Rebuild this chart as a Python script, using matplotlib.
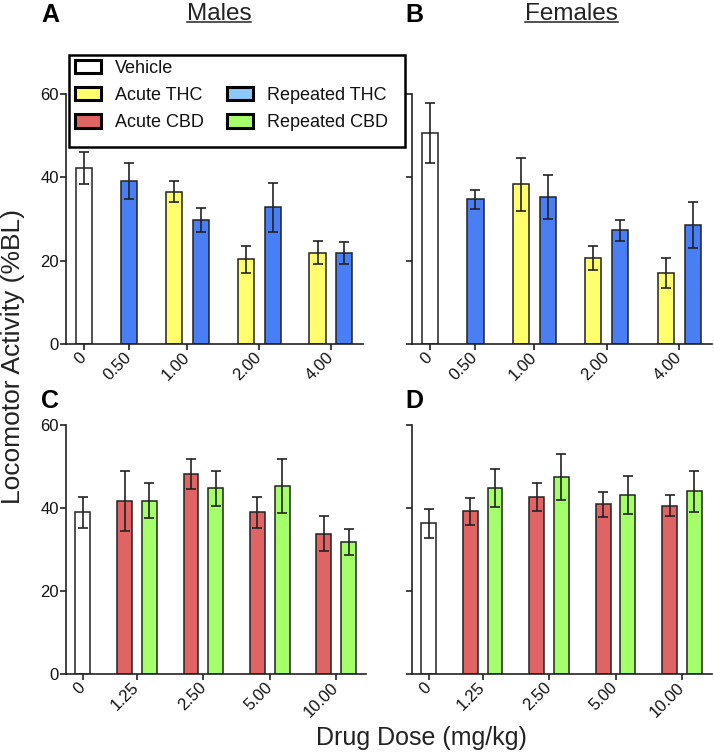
import numpy as np
import matplotlib
matplotlib.use("Agg")
import matplotlib.pyplot as plt
from matplotlib.patches import Patch, Rectangle
from matplotlib.lines import Line2D

plt.rcParams['font.family'] = ['Liberation Sans', 'DejaVu Sans']

# ---------------- data ----------------
thc_doses = ['0', '0.50', '1.00', '2.00', '4.00']
cbd_doses = ['0', '1.25', '2.50', '5.00', '10.00']

# Panel A: males, THC
a_vehicle, a_vehicle_sem = 42.2, 3.9
a_acute = [None, 36.6, 20.3, 21.9]
a_acute_sem = [None, 2.5, 3.2, 2.8]
a_repeat = [39.1, 29.8, 32.8, 21.9]
a_repeat_sem = [4.3, 2.8, 5.9, 2.7]

# Panel B: females, THC
b_vehicle, b_vehicle_sem = 50.6, 7.2
b_acute = [None, 38.3, 20.6, 17.1]
b_acute_sem = [None, 6.3, 2.9, 3.6]
b_repeat = [34.7, 35.3, 27.3, 28.5]
b_repeat_sem = [2.3, 5.2, 2.5, 5.5]

# Panel C: males, CBD
c_vehicle, c_vehicle_sem = 39.0, 3.7
c_acute = [41.8, 48.2, 39.0, 33.8]
c_acute_sem = [7.2, 3.7, 3.7, 4.2]
c_repeat = [41.8, 44.8, 45.3, 31.8]
c_repeat_sem = [4.2, 4.2, 6.4, 3.1]

# Panel D: females, CBD
d_vehicle, d_vehicle_sem = 36.3, 3.6
d_acute = [39.2, 42.6, 40.9, 40.6]
d_acute_sem = [3.2, 3.4, 3.0, 2.5]
d_repeat = [44.8, 47.5, 43.2, 44.0]
d_repeat_sem = [4.5, 5.5, 4.5, 4.9]

legend_labels = ['Vehicle', 'Acute THC', 'Acute CBD', '', 'Repeated THC', 'Repeated CBD']

# ---------------- styles ----------------
C_VEH = '#ffffff'
C_ATHC = '#ffff6e'
C_RTHC = '#4a7ef5'
C_RTHC_LEG = '#8cc8f8'
C_ACBD = '#e06464'
C_RCBD = '#a4ff6a'
EDGE = '#222222'

W, H = 714, 754
fig = plt.figure(figsize=(W / 100, H / 100), dpi=100)


def px_axes(left, right, top, bottom):
    return fig.add_axes([left / W, 1 - bottom / H, (right - left) / W, (bottom - top) / H])


GAP = 0.68
BW = 0.6


def draw_panel(ax, veh, veh_sem, acute, acute_sem, repeat, repeat_sem,
               c_acute, c_repeat, doses, show_ylabels):
    pos = 0.0
    xs, hs, es, cs = [], [], [], []
    ticks = []
    xs.append(pos); hs.append(veh); es.append(veh_sem); cs.append(C_VEH)
    ticks.append(pos)
    pos += 1 + GAP
    for a, ae, r, re_ in zip(acute, acute_sem, repeat, repeat_sem):
        grp = []
        if a is not None:
            xs.append(pos); hs.append(a); es.append(ae); cs.append(c_acute)
            grp.append(pos); pos += 1
        xs.append(pos); hs.append(r); es.append(re_); cs.append(c_repeat)
        grp.append(pos); pos += 1
        ticks.append(np.mean(grp))
        pos += GAP
    ax.bar(xs, hs, width=BW, color=cs, edgecolor=EDGE, linewidth=1.1, zorder=2)
    ax.errorbar(xs, hs, yerr=es, fmt='none', ecolor=EDGE, elinewidth=1.2,
                capsize=3.6, capthick=1.2, zorder=3)
    ax.set_xlim(-0.68, xs[-1] + 0.7)
    ax.set_ylim(0, 60)
    ax.set_yticks([0, 20, 40, 60])
    if not show_ylabels:
        ax.set_yticklabels([])
    ax.set_xticks(ticks)
    ax.set_xticklabels(doses, rotation=45, ha='right', va='center',
                       rotation_mode='anchor', fontsize=12)
    for s in ['top', 'right']:
        ax.spines[s].set_visible(False)
    for s in ['left', 'bottom']:
        ax.spines[s].set_linewidth(1.2)
        ax.spines[s].set_color(EDGE)
    ax.tick_params(axis='both', length=4, width=1.2, color=EDGE, labelsize=12,
                   labelcolor='#111111')
    ax.tick_params(axis='x', pad=4)
    ax.tick_params(axis='y', pad=1)


axA = px_axes(66, 363, 94, 344)
axB = px_axes(411.7, 711.7, 94, 344)
axC = px_axes(66, 366, 425, 674.3)
axD = px_axes(411.7, 711.7, 425, 674.3)

draw_panel(axA, a_vehicle, a_vehicle_sem, a_acute, a_acute_sem, a_repeat, a_repeat_sem,
           C_ATHC, C_RTHC, thc_doses, True)
draw_panel(axB, b_vehicle, b_vehicle_sem, b_acute, b_acute_sem, b_repeat, b_repeat_sem,
           C_ATHC, C_RTHC, thc_doses, False)
draw_panel(axC, c_vehicle, c_vehicle_sem, c_acute, c_acute_sem, c_repeat, c_repeat_sem,
           C_ACBD, C_RCBD, cbd_doses, True)
draw_panel(axD, d_vehicle, d_vehicle_sem, d_acute, d_acute_sem, d_repeat, d_repeat_sem,
           C_ACBD, C_RCBD, cbd_doses, False)

# panel letters
for letter, x, y in [('A', 41, 22.5), ('B', 405, 22.5), ('C', 41, 408), ('D', 405, 408)]:
    fig.text(x / W, 1 - y / H, letter, fontsize=18, fontweight='bold',
             ha='left', va='baseline')

# titles
titles = []
for label, x in [('Males', 219), ('Females', 571.5)]:
    t = fig.text(x / W, 1 - 19.5 / H, label, fontsize=17.5, ha='center', va='baseline',
                 color='#222222')
    titles.append(t)

fig.text(13 / W, 1 - 356 / H, 'Locomotor Activity (%BL)', rotation=90,
         fontsize=19, ha='center', va='center', color='#222222')
fig.text(421.7 / W, 1 - 745 / H, 'Drug Dose (mg/kg)', fontsize=18,
         ha='center', va='baseline', color='#222222')

# legend (entries), frame drawn separately
blank = Patch(facecolor='none', edgecolor='none')
handles = [Patch(facecolor=C_VEH, edgecolor='black', linewidth=2.2),
           Patch(facecolor=C_ATHC, edgecolor='black', linewidth=2.2),
           Patch(facecolor=C_ACBD, edgecolor='black', linewidth=2.2),
           blank,
           Patch(facecolor=C_RTHC_LEG, edgecolor='black', linewidth=2.2),
           Patch(facecolor=C_RCBD, edgecolor='black', linewidth=2.2)]
leg = fig.legend(handles, legend_labels, ncol=2, loc='upper left',
                 bbox_to_anchor=(75 / W, 1 - 60 / H), borderaxespad=0,
                 fontsize=13, frameon=False, handlelength=1.45, handleheight=0.75,
                 handletextpad=0.75, columnspacing=1.3, labelspacing=0.56,
                 borderpad=0)
for txt in leg.get_texts():
    txt.set_color('#111111')
fig.add_artist(Rectangle((69 / W, 1 - 147 / H), (405 - 69) / W, (147 - 55) / H,
                         transform=fig.transFigure, facecolor='white',
                         edgecolor='black', linewidth=1.8, zorder=0.5))
leg.set_zorder(5)

# underline titles
fig.canvas.draw()
renderer = fig.canvas.get_renderer()
inv = fig.transFigure.inverted()
for t in titles:
    bb = t.get_window_extent(renderer)
    (x0, _), (x1, _) = inv.transform([(bb.x0, bb.y0), (bb.x1, bb.y0)])
    yl = 1 - 22 / H
    fig.add_artist(Line2D([x0, x1], [yl, yl], transform=fig.transFigure,
                          color='#222222', linewidth=1.1))

fig.savefig('out.png', dpi=100)
